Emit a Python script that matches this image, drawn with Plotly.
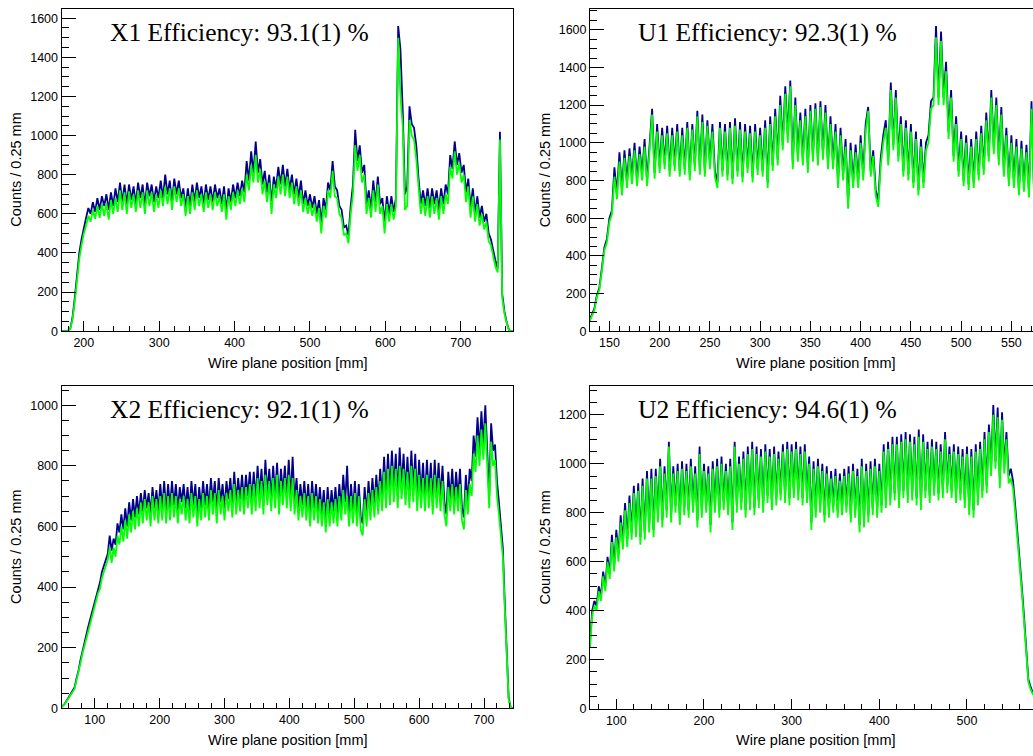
import numpy as np
import plotly.graph_objects as go

# ---------------- data: counts per bin (bin centres on a regular grid) ----------------
# X1 plane: bins from 170 mm, 3 mm apart
x1_start, x1_step = 170.0, 3.0
x1_all = [
    0, 0, 0, 3, 12, 70, 170, 280, 400, 470,
    530, 580, 630, 600, 660, 610, 680, 620, 690, 640,
    700, 620, 710, 640, 730, 660, 760, 660, 750, 650,
    750, 670, 740, 650, 760, 680, 750, 640, 760, 690,
    750, 660, 740, 680, 770, 680, 800, 700, 770, 660,
    780, 700, 770, 680, 730, 630, 730, 640, 750, 660,
    760, 680, 740, 650, 750, 670, 740, 660, 750, 680,
    730, 650, 740, 610, 730, 660, 750, 680, 760, 690,
    770, 710, 870, 770, 920, 810, 970, 810, 880, 750,
    820, 710, 800, 650, 790, 730, 840, 750, 850, 740,
    830, 720, 800, 700, 780, 680, 770, 650, 720, 640,
    700, 630, 690, 600, 670, 550, 680, 620, 760, 720,
    870, 740, 720, 640, 620, 530, 540, 490, 640, 750,
    1030, 870, 950, 810, 850, 650, 720, 620, 770, 650,
    790, 650, 680, 550, 690, 600, 690, 610, 680, 1560,
    1440, 1130, 700, 740, 1150, 1060, 1040, 950, 780, 650,
    720, 640, 730, 630, 730, 650, 720, 620, 730, 650,
    750, 700, 900, 830, 970, 850, 910, 810, 850, 710,
    780, 630, 730, 600, 690, 580, 640, 560, 600, 500,
    470, 410, 360, 320, 1020, 190, 100, 45, 6, 0, 0,
]
x1_eff = [
    0, 0, 0, 2, 10, 60, 150, 260, 370, 440,
    500, 540, 590, 560, 620, 575, 640, 580, 650, 590,
    655, 570, 670, 600, 680, 610, 720, 620, 710, 600,
    715, 630, 700, 610, 720, 630, 710, 600, 720, 640,
    710, 610, 700, 630, 720, 640, 740, 650, 730, 620,
    740, 660, 730, 640, 700, 590, 690, 600, 710, 620,
    720, 640, 700, 610, 710, 630, 700, 620, 710, 640,
    690, 610, 700, 570, 690, 620, 710, 640, 720, 650,
    730, 660, 800, 720, 850, 760, 900, 760, 830, 700,
    770, 660, 760, 600, 750, 680, 790, 700, 800, 690,
    790, 680, 760, 650, 740, 640, 720, 610, 680, 600,
    660, 590, 650, 560, 630, 500, 640, 580, 720, 680,
    820, 690, 680, 600, 580, 490, 500, 450, 600, 700,
    950, 820, 900, 760, 800, 600, 680, 580, 720, 610,
    750, 600, 640, 500, 650, 560, 650, 570, 640, 1500,
    1200, 1050, 620, 640, 1080, 1000, 980, 880, 720, 600,
    680, 590, 690, 580, 690, 600, 680, 570, 690, 600,
    700, 650, 840, 780, 920, 800, 860, 760, 800, 660,
    740, 580, 690, 560, 650, 540, 600, 520, 560, 460,
    440, 380, 330, 300, 980, 170, 90, 40, 5, 0, 0,
]

# U1 plane: bins from 130 mm, 2.5 mm apart
u1_start, u1_step = 130.0, 2.5
u1_all = [
    55, 85, 120, 190, 230, 335, 445, 490, 600, 640,
    870, 730, 950, 750, 960, 790, 970, 810, 1000, 800,
    980, 830, 1020, 800, 1020, 1180, 840, 1100, 870, 1080,
    890, 1090, 850, 1080, 880, 1100, 850, 1080, 860, 1110,
    830, 1100, 880, 1170, 860, 1150, 850, 1120, 890, 1100,
    850, 790, 1110, 850, 1100, 830, 1110, 810, 1130, 850,
    1110, 820, 1100, 870, 1090, 820, 1100, 860, 1080, 850,
    1120, 790, 1140, 880, 1180, 910, 1250, 990, 1300, 1040,
    1330, 890, 1240, 930, 1160, 910, 1180, 870, 1200, 930,
    1210, 910, 1220, 940, 1200, 890, 1140, 890, 1100, 790,
    1080, 830, 1020, 680, 1000, 790, 990, 790, 1040, 830,
    1100, 1190, 850, 960, 750, 690, 920, 1040, 1120, 910,
    1320, 990, 1280, 930, 1140, 850, 1120, 830, 1100, 790,
    1060, 750, 1020, 790, 1000, 1040, 1220, 1240, 1620, 1240,
    1590, 1240, 1430, 1060, 1280, 930, 1140, 850, 1060, 800,
    1040, 780, 1020, 790, 1060, 830, 1090, 860, 1160, 930,
    1280, 970, 1240, 910, 1190, 850, 1080, 800, 1040, 790,
    1020, 750, 1010, 770, 990, 740, 1220, 750,
]
u1_eff = [
    50, 80, 110, 180, 220, 320, 430, 470, 580, 620,
    820, 700, 900, 720, 920, 760, 930, 780, 960, 770,
    940, 800, 980, 770, 990, 1150, 810, 1060, 840, 1040,
    860, 1050, 820, 1040, 850, 1060, 820, 1040, 830, 1080,
    800, 1070, 850, 1140, 830, 1110, 820, 1090, 860, 1060,
    820, 760, 1080, 820, 1060, 800, 1080, 780, 1090, 820,
    1070, 790, 1060, 840, 1050, 790, 1060, 830, 1040, 820,
    1080, 760, 1100, 850, 1140, 880, 1200, 960, 1260, 1000,
    1300, 860, 1200, 900, 1120, 880, 1140, 840, 1170, 900,
    1180, 880, 1190, 910, 1160, 860, 1100, 860, 1060, 760,
    1040, 800, 980, 650, 960, 760, 950, 760, 1000, 800,
    1060, 1170, 820, 930, 720, 660, 880, 1000, 1080, 880,
    1280, 960, 1240, 900, 1100, 820, 1080, 800, 1060, 760,
    1020, 720, 980, 760, 960, 1000, 1180, 1200, 1560, 1200,
    1540, 1200, 1380, 1020, 1240, 900, 1100, 820, 1020, 770,
    1000, 750, 980, 760, 1020, 800, 1050, 830, 1120, 900,
    1240, 940, 1200, 880, 1150, 820, 1040, 770, 1000, 760,
    980, 720, 970, 740, 950, 710, 1180, 720,
]

# X2 plane: bins from 48 mm, 3 mm apart
x2_start, x2_step = 48.0, 3.0
x2_all = [
    3, 8, 16, 27, 38, 48, 58, 70, 100, 125,
    160, 190, 215, 245, 270, 295, 320, 345, 365, 395,
    415, 450, 470, 490, 510, 570, 520, 560, 540, 610,
    580, 640, 590, 660, 600, 680, 620, 690, 630, 700,
    640, 710, 650, 720, 660, 710, 640, 730, 660, 720,
    650, 740, 660, 750, 650, 740, 660, 750, 670, 740,
    650, 730, 680, 740, 660, 730, 650, 750, 670, 740,
    640, 730, 660, 750, 670, 740, 660, 760, 680, 750,
    650, 760, 680, 740, 660, 750, 690, 760, 670, 780,
    680, 760, 690, 770, 680, 770, 700, 780, 680, 780,
    690, 800, 700, 790, 680, 820, 710, 790, 690, 800,
    700, 810, 680, 790, 710, 800, 700, 820, 690, 830,
    680, 760, 660, 740, 670, 750, 660, 740, 640, 750,
    660, 740, 650, 730, 640, 720, 620, 730, 640, 720,
    650, 730, 640, 740, 660, 770, 680, 800, 640, 740,
    650, 750, 640, 740, 630, 610, 730, 640, 750, 660,
    760, 670, 770, 680, 790, 690, 830, 700, 840, 710,
    850, 720, 840, 700, 860, 730, 840, 710, 830, 700,
    850, 720, 840, 690, 820, 700, 810, 690, 820, 700,
    810, 680, 820, 700, 810, 690, 800, 680, 640, 780,
    690, 790, 680, 780, 690, 790, 660, 630, 770, 680,
    790, 750, 900, 830, 960, 850, 980, 870, 1000, 850,
    700, 940, 850, 870, 750, 680, 600, 530, 350, 180,
    35, 4, 0, 0,
]
x2_eff = [
    2, 8, 15, 25, 35, 45, 55, 65, 95, 120,
    150, 180, 205, 235, 260, 280, 305, 330, 350, 380,
    395, 430, 450, 470, 490, 530, 480, 530, 500, 570,
    540, 600, 550, 620, 560, 640, 580, 650, 590, 660,
    600, 680, 610, 690, 620, 680, 600, 700, 620, 690,
    610, 700, 620, 710, 610, 700, 620, 710, 630, 700,
    610, 690, 640, 700, 620, 690, 610, 710, 630, 700,
    600, 690, 620, 710, 630, 700, 620, 720, 640, 710,
    610, 720, 640, 700, 620, 710, 650, 720, 630, 740,
    640, 720, 650, 730, 640, 730, 660, 740, 640, 740,
    650, 760, 660, 750, 640, 770, 670, 750, 650, 760,
    660, 770, 640, 750, 670, 760, 660, 770, 650, 760,
    640, 720, 620, 700, 630, 710, 620, 700, 600, 710,
    620, 700, 610, 690, 600, 680, 580, 690, 600, 680,
    610, 690, 600, 700, 620, 720, 640, 700, 600, 700,
    610, 710, 600, 700, 590, 570, 690, 600, 710, 620,
    720, 630, 730, 640, 750, 650, 780, 660, 790, 670,
    800, 680, 790, 660, 800, 690, 790, 670, 780, 660,
    800, 680, 790, 650, 770, 660, 760, 650, 770, 660,
    760, 640, 770, 660, 760, 650, 750, 640, 600, 730,
    650, 740, 640, 730, 650, 740, 620, 590, 720, 640,
    740, 700, 840, 780, 900, 800, 920, 820, 940, 800,
    660, 880, 800, 820, 700, 640, 560, 500, 330, 170,
    30, 3, 0, 0,
]

# U2 plane: bins from 70 mm, 2.5 mm apart
u2_start, u2_step = 70.0, 2.5
u2_all = [
    270, 400, 440, 420, 500, 460, 560, 500, 620, 550,
    710, 580, 730, 630, 790, 680, 840, 690, 870, 720,
    910, 730, 920, 700, 940, 720, 970, 750, 980, 730,
    980, 790, 1020, 770, 990, 810, 1090, 790, 990, 830,
    1000, 780, 1010, 820, 1000, 810, 1020, 830, 990, 770,
    1070, 810, 1000, 830, 990, 750, 1010, 830, 1020, 810,
    1030, 840, 1000, 820, 1020, 760, 1090, 830, 1030, 840,
    1050, 810, 1070, 840, 1090, 820, 1070, 850, 1060, 830,
    1080, 870, 1060, 840, 1070, 860, 1050, 880, 1080, 870,
    1090, 860, 1080, 890, 1090, 880, 1070, 860, 1080, 870,
    1030, 760, 1010, 810, 1020, 830, 1000, 790, 990, 810,
    970, 830, 980, 810, 960, 820, 980, 830, 990, 790,
    1000, 810, 980, 750, 1020, 770, 1000, 790, 1010, 820,
    1020, 810, 1000, 830, 1080, 850, 1090, 860, 1110, 880,
    1110, 850, 1120, 890, 1130, 870, 1120, 880, 1110, 860,
    1140, 840, 1120, 890, 1090, 870, 1100, 900, 1090, 880,
    1080, 890, 1130, 910, 1070, 890, 1080, 870, 1070, 880,
    1060, 850, 1070, 820, 1060, 810, 1080, 860, 1090, 890,
    1130, 910, 1160, 980, 1240, 1010, 1230, 930, 1210, 990,
    1130, 950, 980, 930, 830, 730, 610, 500, 380, 250,
    120, 90, 65, 55,
]
u2_eff = [
    250, 380, 420, 400, 480, 440, 540, 480, 600, 530,
    680, 560, 700, 600, 760, 650, 810, 660, 840, 690,
    880, 700, 890, 670, 910, 690, 940, 720, 940, 700,
    950, 760, 990, 740, 960, 780, 1070, 760, 960, 800,
    970, 750, 980, 790, 970, 780, 990, 800, 960, 740,
    1040, 780, 970, 800, 960, 720, 980, 800, 990, 780,
    1000, 810, 970, 790, 990, 730, 1070, 800, 1000, 810,
    1020, 780, 1040, 810, 1060, 790, 1040, 820, 1030, 800,
    1050, 840, 1030, 810, 1040, 830, 1020, 850, 1050, 840,
    1060, 830, 1050, 860, 1060, 850, 1040, 830, 1050, 840,
    1000, 730, 980, 780, 990, 800, 970, 760, 960, 780,
    940, 800, 950, 780, 930, 790, 950, 800, 960, 760,
    970, 780, 950, 720, 990, 740, 970, 760, 980, 790,
    990, 780, 970, 800, 1050, 820, 1060, 830, 1080, 850,
    1080, 820, 1090, 860, 1100, 840, 1090, 850, 1080, 830,
    1110, 810, 1090, 860, 1060, 840, 1070, 870, 1060, 850,
    1050, 860, 1100, 880, 1040, 860, 1050, 840, 1040, 850,
    1030, 820, 1040, 790, 1030, 780, 1050, 830, 1060, 860,
    1100, 880, 1130, 950, 1200, 980, 1190, 900, 1180, 960,
    1100, 920, 940, 900, 800, 700, 590, 480, 360, 230,
    110, 80, 60, 50,
]

# ---------------- panel definitions ----------------
panels = [
    dict(name="X1", eff="93.1(1)", start=x1_start, step=x1_step, all=x1_all, sel=x1_eff,
         xr=[170.4, 769.3], yr=[0, 1646], xdt=100, xmin=20,
         xdom=[61.5, 513], ydom=[9.3, 334.3], right=False),
    dict(name="U1", eff="92.3(1)", start=u1_start, step=u1_step, all=u1_all, sel=u1_eff,
         xr=[130.7, 571.5], yr=[0, 1709], xdt=50, xmin=10,
         xdom=[590, 1033], ydom=[9.3, 334.3], right=True),
    dict(name="X2", eff="92.1(1)", start=x2_start, step=x2_step, all=x2_all, sel=x2_eff,
         xr=[48.7, 744.7], yr=[0, 1062], xdt=100, xmin=20,
         xdom=[61.5, 513], ydom=[390, 715], right=False),
    dict(name="U2", eff="94.6(1)", start=u2_start, step=u2_step, all=u2_all, sel=u2_eff,
         xr=[70.0, 575.3], yr=[0, 1316], xdt=100, xmin=20,
         xdom=[590, 1033], ydom=[390, 715.3], right=True),
]

W, H = 1033, 756
BLUE = "#00008b"
GREEN = "#00ff00"
SANS = "Liberation Sans, Arial, sans-serif"
SERIF = "Liberation Serif, Times New Roman, serif"

fig = go.Figure()
layout = dict(
    width=W, height=H, margin=dict(l=0, r=0, t=0, b=0),
    paper_bgcolor="white", plot_bgcolor="white", showlegend=False,
    annotations=[],
)

for k, p in enumerate(panels):
    sfx = "" if k == 0 else str(k + 1)
    xs = p["start"] + p["step"] * np.arange(len(p["all"]))
    for vals, col in ((p["all"], BLUE), (p["sel"], GREEN)):
        fig.add_trace(go.Scatter(
            x=xs, y=vals, mode="lines", line=dict(color=col, width=1.8),
            xaxis="x" + sfx, yaxis="y" + sfx, hoverinfo="skip",
        ))
    x0, x1 = p["xdom"][0] / W, p["xdom"][1] / W
    y0, y1 = 1 - p["ydom"][1] / H, 1 - p["ydom"][0] / H
    frame_w = 452.0
    frame_h = p["ydom"][1] - p["ydom"][0]
    layout["xaxis" + sfx] = dict(
        domain=[x0, min(x1, 1.0)], range=p["xr"], anchor="y" + sfx,
        showgrid=False, zeroline=False, showline=True, linecolor="black", linewidth=1,
        mirror=True, ticks="inside", ticklen=round(0.03 * frame_h), tickcolor="black",
        dtick=p["xdt"], tick0=0, tickfont=dict(family=SANS, size=12.5, color="black"),
        minor=dict(dtick=p["xmin"], ticks="inside", ticklen=round(0.015 * frame_h),
                   tickcolor="black", showgrid=False),
    )
    layout["yaxis" + sfx] = dict(
        domain=[y0, y1], range=p["yr"], anchor="x" + sfx,
        showgrid=False, zeroline=False, showline=True, linecolor="black", linewidth=1,
        mirror=not p["right"], ticks="inside", ticklen=round(0.03 * frame_w),
        tickcolor="black", dtick=200, tick0=0,
        tickfont=dict(family=SANS, size=12.5, color="black"),
        minor=dict(dtick=50, ticks="inside", ticklen=round(0.015 * frame_w),
                   tickcolor="black", showgrid=False),
    )
    cx = (p["xdom"][0] + p["xdom"][0] + 452) / 2
    layout["annotations"] += [
        dict(text=f"{p['name']} Efficiency: {p['eff']} %", xref="paper", yref="paper",
             x=(p["xdom"][0] + 46) / W, y=1 - (p["ydom"][0] + 23) / H,
             xanchor="left", yanchor="middle", showarrow=False,
             font=dict(family=SERIF, size=25.5, color="black")),
        dict(text="Wire plane position [mm]", xref="paper", yref="paper",
             x=cx / W, y=1 - (p["ydom"][1] + 32) / H, xanchor="center", yanchor="middle",
             showarrow=False, font=dict(family=SANS, size=14.5, color="black")),
        dict(text="Counts / 0.25 mm", xref="paper", yref="paper", textangle=-90,
             x=(p["xdom"][0] - 45) / W, y=1 - (p["ydom"][0] + p["ydom"][1]) / 2 / H,
             xanchor="center", yanchor="middle", showarrow=False,
             font=dict(family=SANS, size=14.5, color="black")),
    ]

fig.update_layout(**layout)
fig.write_html("out.html")
